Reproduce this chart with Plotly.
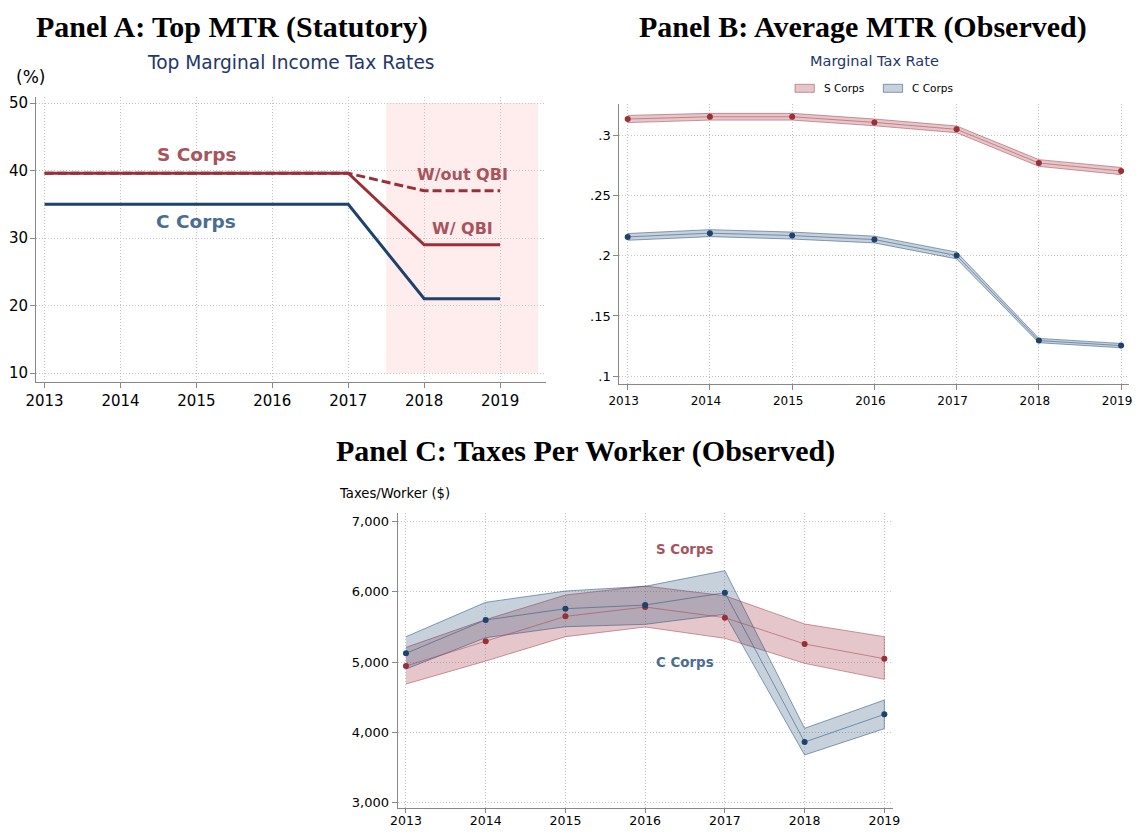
import plotly.graph_objects as go

# the page body has an 8px margin, so the figure is drawn 8px in from the corner
OFF = 8
W, H = 1143 - 2 * OFF, 835 - 2 * OFF

years = [2013, 2014, 2015, 2016, 2017, 2018, 2019]

# Panel A: statutory top marginal rates (%)
s_top_with_qbi = [39.6, 39.6, 39.6, 39.6, 39.6, 29.0, 29.0]
s_top_without_qbi = [39.6, 39.6, 39.6, 39.6, 39.6, 37.0, 37.0]
c_top = [35, 35, 35, 35, 35, 21, 21]

# Panel B: observed average MTR with CI
s_mtr = [0.3139, 0.3158, 0.3158, 0.3111, 0.3053, 0.2773, 0.2706]
s_mtr_lo = [0.3109, 0.3130, 0.3130, 0.3083, 0.3025, 0.2745, 0.2676]
s_mtr_hi = [0.3169, 0.3186, 0.3186, 0.3139, 0.3081, 0.2801, 0.2736]
c_mtr = [0.2158, 0.2189, 0.2169, 0.2136, 0.2003, 0.1295, 0.1253]
c_mtr_lo = [0.2130, 0.2160, 0.2140, 0.2108, 0.1975, 0.1277, 0.1235]
c_mtr_hi = [0.2186, 0.2218, 0.2198, 0.2164, 0.2031, 0.1313, 0.1271]

# Panel C: taxes per worker ($) with CI
s_tpw = [4943, 5295, 5651, 5784, 5632, 5257, 5047]
s_tpw_lo = [4686, 5014, 5361, 5499, 5338, 4981, 4753]
s_tpw_hi = [5209, 5605, 5955, 6083, 5945, 5542, 5361]
c_tpw = [5124, 5599, 5760, 5812, 5988, 3859, 4254]
c_tpw_lo = [4900, 5347, 5503, 5537, 5680, 3675, 4050]
c_tpw_hi = [5361, 5851, 6012, 6079, 6302, 4055, 4458]

RED = "#9b2f36"
BLUE = "#1d426e"
RED_TXT = "#a8545e"
BLUE_TXT = "#4a6d91"
NAVY = "#24366a"
S_FILL = "rgba(170,70,82,0.30)"
C_FILL = "rgba(45,85,125,0.27)"
S_EDGE = "rgba(170,70,82,0.55)"
C_EDGE = "rgba(45,85,125,0.55)"
FONT = "DejaVu Sans"
SERIF = "Liberation Serif"


# helpers take page pixels (as measured on the reference) and return paper fractions
def fx(px):
    return (px - OFF) / W


def fy(py):
    return 1 - (py - OFF) / H


def band(x, lo, hi, fill, edge, xa, ya):
    return go.Scatter(
        x=x + x[::-1], y=hi + lo[::-1], fill="toself", fillcolor=fill,
        line=dict(color=edge, width=1), mode="lines",
        showlegend=False, hoverinfo="skip", xaxis=xa, yaxis=ya,
    )


fig = go.Figure()

# ---- Panel A
fig.add_trace(go.Scatter(x=years, y=c_top, mode="lines", line=dict(color=BLUE, width=3),
                         showlegend=False, xaxis="x", yaxis="y"))
fig.add_trace(go.Scatter(x=years, y=s_top_without_qbi, mode="lines",
                         line=dict(color=RED, width=3, dash="9px,4px"),
                         showlegend=False, xaxis="x", yaxis="y"))
fig.add_trace(go.Scatter(x=years, y=s_top_with_qbi, mode="lines", line=dict(color=RED, width=3),
                         showlegend=False, xaxis="x", yaxis="y"))

# ---- Panel B
fig.add_trace(band(years, s_mtr_lo, s_mtr_hi, S_FILL, S_EDGE, "x2", "y2"))
fig.add_trace(band(years, c_mtr_lo, c_mtr_hi, C_FILL, C_EDGE, "x2", "y2"))
fig.add_trace(go.Scatter(x=years, y=s_mtr, mode="lines+markers", line=dict(color=S_EDGE, width=1),
                         marker=dict(color=RED, size=6), showlegend=False, xaxis="x2", yaxis="y2"))
fig.add_trace(go.Scatter(x=years, y=c_mtr, mode="lines+markers", line=dict(color=C_EDGE, width=1),
                         marker=dict(color=BLUE, size=6), showlegend=False, xaxis="x2", yaxis="y2"))

# ---- Panel C
fig.add_trace(band(years, s_tpw_lo, s_tpw_hi, S_FILL, S_EDGE, "x3", "y3"))
fig.add_trace(band(years, c_tpw_lo, c_tpw_hi, C_FILL, C_EDGE, "x3", "y3"))
fig.add_trace(go.Scatter(x=years, y=s_tpw, mode="lines+markers", line=dict(color=S_EDGE, width=1),
                         marker=dict(color=RED, size=6), showlegend=False, xaxis="x3", yaxis="y3"))
fig.add_trace(go.Scatter(x=years, y=c_tpw, mode="lines+markers", line=dict(color=C_EDGE, width=1),
                         marker=dict(color=BLUE, size=6), showlegend=False, xaxis="x3", yaxis="y3"))

axis_common = dict(showline=True, linecolor="#888888", linewidth=1, ticks="outside",
                   ticklen=5, tickcolor="#888888", showgrid=True, gridcolor="#c4c4c4",
                   griddash="1px,2px", gridwidth=1, zeroline=False, color="black",
                   automargin=False)

fig.update_layout(
    width=W, height=H, margin=dict(l=0, r=0, t=0, b=0),
    plot_bgcolor="white", paper_bgcolor="white",
    font=dict(family=FONT, color="black"),
    showlegend=False,
    xaxis=dict(axis_common, domain=[fx(36), fx(546.4)], range=[2012.887, 2019.61], anchor="y",
               tickvals=years, tickfont=dict(size=15)),
    yaxis=dict(axis_common, domain=[fy(382), fy(97)], range=[8.67, 50.9], anchor="x",
               tickvals=[10, 20, 30, 40, 50], tickfont=dict(size=15), ticklabelstandoff=-1),
    xaxis2=dict(axis_common, domain=[fx(619.3), fx(1129.1)], range=[2012.898, 2019.097],
                anchor="y2", tickvals=years, tickfont=dict(size=12),
                ticklabelshift=-4, ticklabeloverflow="allow"),
    yaxis2=dict(axis_common, domain=[fy(384.3), fy(104)], range=[0.0931, 0.3264], anchor="x2",
                tickvals=[0.1, 0.15, 0.2, 0.25, 0.3], ticktext=[".1", ".15", ".2", ".25", ".3"],
                tickfont=dict(size=13)),
    xaxis3=dict(axis_common, domain=[fx(397.6), fx(892.8)], range=[2012.895, 2019.106],
                anchor="y3", tickvals=years, tickfont=dict(size=12.5), ticklen=4,
                ticklabelstandoff=-3, ticklabeloverflow="allow"),
    # axis line sits 3px higher than the original so the year labels stay on the page
    yaxis3=dict(axis_common, domain=[fy(808), fy(513.3)], range=[2919, 7120], anchor="x3",
                tickvals=[3000, 4000, 5000, 6000, 7000], tickformat=",d",
                tickfont=dict(size=13)),
)

shapes = [dict(type="rect", xref="x", yref="y", x0=2017.5, x1=2019.5, y0=10, y1=50,
               fillcolor="rgba(255,200,200,0.35)", line=dict(width=0), layer="below")]
ann = []


def paper_text(text, x, y, size, color="black", family=FONT, xanchor="center", yanchor="middle"):
    ann.append(dict(text=text, x=fx(x), y=fy(y), xref="paper", yref="paper",
                    xanchor=xanchor, yanchor=yanchor, showarrow=False,
                    font=dict(size=size, color=color, family=family)))


def data_text(text, x, y, xa, ya, size, color):
    ann.append(dict(text="<b>" + text + "</b>", x=x, y=y, xref=xa, yref=ya, showarrow=False,
                    font=dict(size=size, color=color, family=FONT)))


# Panel B legend (small boxes like the original)
for label, x0, fill, edge in [("S Corps", 795, S_FILL, S_EDGE), ("C Corps", 883.3, C_FILL, C_EDGE)]:
    shapes.append(dict(type="rect", xref="paper", yref="paper", x0=fx(x0), x1=fx(x0 + 19.3),
                       y0=fy(92.3), y1=fy(84.3), fillcolor=fill, line=dict(color=edge, width=1)))
    paper_text(label, x0 + 26.7, 88.3, 10.5, xanchor="left")

fig.update_layout(shapes=shapes)

# top titles hang from the top edge of the figure
paper_text("<b>Panel A: Top MTR (Statutory)</b>", 232, OFF, 30, family=SERIF, yanchor="top")
paper_text("<b>Panel B: Average MTR (Observed)</b>", 863, OFF, 30, family=SERIF, yanchor="top")
paper_text("<b>Panel C: Taxes Per Worker (Observed)</b>", 585, 451, 30, family=SERIF)
paper_text("Top Marginal Income Tax Rates", 291, 63, 18.6, NAVY)
paper_text("(%)", 14, 77, 17, xanchor="left")
paper_text("Marginal Tax Rate", 874.6, 61, 14.5, NAVY)
paper_text("Taxes/Worker ($)", 336.6, 493, 13.2, xanchor="left")

data_text("S Corps", 2015, 42.44, "x", "y", 18.5, RED_TXT)
data_text("C Corps", 2015, 32.4, "x", "y", 18.5, BLUE_TXT)
data_text("W/out QBI", 2018.5, 39.44, "x", "y", 16, RED_TXT)
data_text("W/ QBI", 2018.5, 31.44, "x", "y", 16, RED_TXT)
data_text("S Corps", 2016.5, 6611, "x3", "y3", 13.4, RED_TXT)
data_text("C Corps", 2016.5, 4991, "x3", "y3", 13.4, BLUE_TXT)

fig.update_layout(annotations=ann)
fig.write_html("out.html")
